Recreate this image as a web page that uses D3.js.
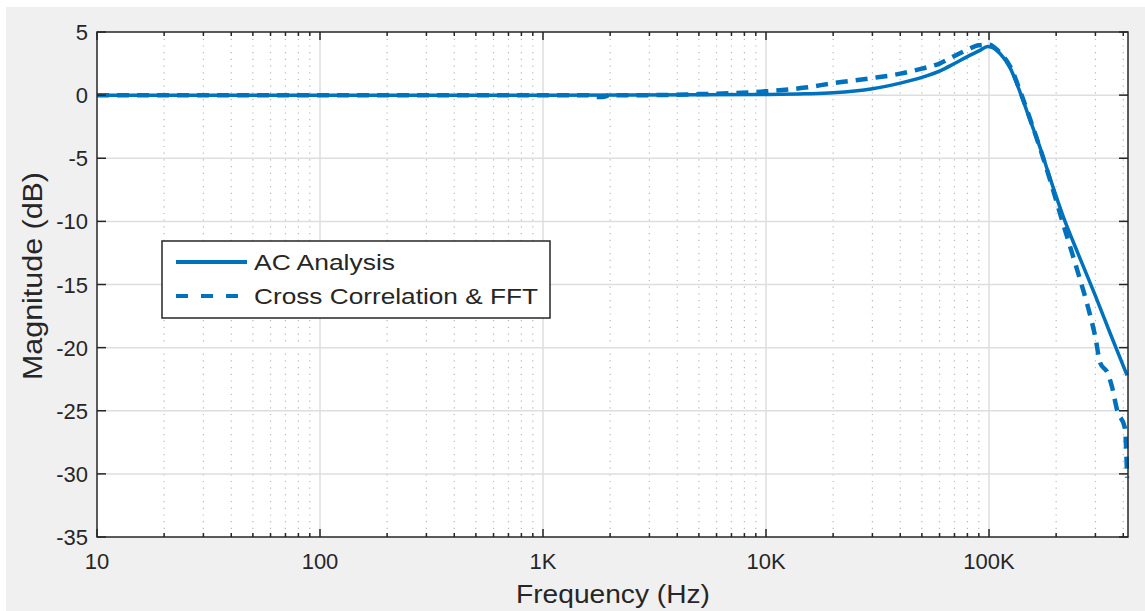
<!DOCTYPE html>
<html>
<head>
<meta charset="utf-8">
<script src="https://cdn.jsdelivr.net/npm/d3@7"></script>
<style>
  body { margin: 0; background: #fff; }
  text { font-family: "Liberation Sans", Arial, Helvetica, sans-serif; fill: #262626; }
</style>
</head>
<body>
<script>
// AC analysis (solid) - frequency in Hz, magnitude in dB
var acFreq = [10, 100, 1000, 5000, 10000, 15000, 20000, 30000, 40000, 50000, 60000, 70000, 80000, 90000, 99000, 112000, 124000, 138000, 153000, 169000, 188000, 215000, 250000, 300000, 350000, 416000];
var acMag  = [0, 0, 0, 0.02, 0.05, 0.1, 0.18, 0.5, 0.95, 1.4, 1.9, 2.5, 3.05, 3.5, 3.85, 3.3, 2.2, 0.2, -2.0, -4.1, -6.6, -9.6, -12.5, -15.9, -18.9, -22.2];

// cross correlation & FFT (dashed)
var ccFreq = [10, 100, 1000, 1600, 1700, 1850, 2000, 3000, 5000, 7000, 10000, 15000, 20000, 30000, 40000, 50000, 60000, 70000, 80000, 90000, 100000, 110000, 125000, 140000, 155000, 170000, 190000, 210000, 231000, 250000, 275000, 300000, 315000, 340000, 356000, 376000, 406000, 414000, 416000];
var ccMag  = [0, 0, 0, 0, -0.15, -0.15, 0, 0, 0.08, 0.15, 0.3, 0.6, 0.95, 1.35, 1.7, 2.1, 2.5, 3.1, 3.6, 3.95, 4.0, 3.5, 2.2, 0.0, -2.2, -4.3, -7.0, -9.6, -12.0, -14.0, -16.5, -19.2, -21.2, -22.0, -23.1, -25.0, -26.3, -29.0, -30.3];

var xMajor = [10, 100, 1000, 10000, 100000];
var xLabels = ['10', '100', '1K', '10K', '100K'];
var yTicks = [5, 0, -5, -10, -15, -20, -25, -30, -35];
var seriesNames = ['AC Analysis', 'Cross Correlation & FFT'];

var W = 1145, H = 611;
var L = 97, T = 32, R = 1128, B = 537;
var blue = '#0072bd';

var svg = d3.select('body').append('svg')
  .attr('width', W)
  .attr('height', H);

svg.append('rect').attr('x', 6).attr('y', 7).attr('width', W - 6).attr('height', H - 7).attr('fill', '#f0f0f0');
svg.append('rect').attr('x', L).attr('y', T).attr('width', R - L).attr('height', B - T).attr('fill', '#fff');

var x = d3.scaleLog().domain([10, 420000]).range([L, R]);
var y = d3.scaleLinear().domain([-35, 5]).range([B, T]);

// minor ticks 2..9 per decade
var xMinor = [];
xMajor.forEach(d => {
  for (let k = 2; k <= 9; k++) {
    if (d * k <= 420000) xMinor.push(d * k);
  }
});

var grid = svg.append('g');
grid.selectAll('line.minor')
  .data(xMinor)
  .enter().append('line')
  .attr('x1', d => x(d)).attr('x2', d => x(d))
  .attr('y1', T).attr('y2', B)
  .attr('stroke', '#b8b8b8')
  .attr('stroke-width', 1.2)
  .attr('stroke-dasharray', '1.2,5.5');
grid.selectAll('line.vmaj')
  .data(xMajor.slice(1))
  .enter().append('line')
  .attr('x1', d => x(d)).attr('x2', d => x(d))
  .attr('y1', T).attr('y2', B)
  .attr('stroke', '#dedede')
  .attr('stroke-width', 1.5);
grid.selectAll('line.hmaj')
  .data(yTicks.slice(1, -1))
  .enter().append('line')
  .attr('x1', L).attr('x2', R)
  .attr('y1', d => y(d)).attr('y2', d => y(d))
  .attr('stroke', '#dedede')
  .attr('stroke-width', 1.5);

// curves
var line = d3.line()
  .x(d => x(d[0]))
  .y(d => y(d[1]))
  .curve(d3.curveMonotoneX);

svg.append('clipPath').attr('id', 'clip')
  .append('rect').attr('x', L).attr('y', T - 5).attr('width', R - L + 2).attr('height', B - T + 10);

svg.append('path')
  .datum(d3.zip(ccFreq, ccMag))
  .attr('clip-path', 'url(#clip)')
  .attr('d', line)
  .attr('fill', 'none')
  .attr('stroke', blue)
  .attr('stroke-width', 4.5)
  .attr('stroke-dasharray', '12,8');

svg.append('path')
  .datum(d3.zip(acFreq, acMag))
  .attr('clip-path', 'url(#clip)')
  .attr('d', line)
  .attr('fill', 'none')
  .attr('stroke', blue)
  .attr('stroke-width', 3.5);

// box + ticks
var axisColor = '#262626';
var ax = svg.append('g');
ax.append('rect')
  .attr('x', L).attr('y', T).attr('width', R - L).attr('height', B - T)
  .attr('fill', 'none').attr('stroke', axisColor).attr('stroke-width', 1.5);

[B, T].forEach(edge => {
  var dir = edge === B ? -1 : 1;
  ax.selectAll(null).data(xMajor).enter().append('line')
    .attr('x1', d => x(d)).attr('x2', d => x(d))
    .attr('y1', edge).attr('y2', edge + dir * 8)
    .attr('stroke', axisColor).attr('stroke-width', 1.5);
  ax.selectAll(null).data(xMinor).enter().append('line')
    .attr('x1', d => x(d)).attr('x2', d => x(d))
    .attr('y1', edge).attr('y2', edge + dir * 4)
    .attr('stroke', axisColor).attr('stroke-width', 1.5);
});
[L, R].forEach(edge => {
  var dir = edge === L ? 1 : -1;
  ax.selectAll(null).data(yTicks).enter().append('line')
    .attr('x1', edge).attr('x2', edge + dir * 9)
    .attr('y1', d => y(d)).attr('y2', d => y(d))
    .attr('stroke', axisColor).attr('stroke-width', 1.5);
});

// tick labels
svg.selectAll('text.xt')
  .data(xMajor)
  .enter().append('text')
  .attr('x', d => x(d))
  .attr('y', 569)
  .attr('text-anchor', 'middle')
  .attr('font-size', '22px')
  .text((d, i) => xLabels[i]);

svg.selectAll('text.yt')
  .data(yTicks)
  .enter().append('text')
  .attr('x', 88)
  .attr('y', d => y(d) + 8)
  .attr('text-anchor', 'end')
  .attr('font-size', '22px')
  .text(d => d);

// axis titles
svg.append('text')
  .attr('x', 613).attr('y', 603)
  .attr('text-anchor', 'middle')
  .attr('font-size', '25px')
  .attr('textLength', 194)
  .attr('lengthAdjust', 'spacingAndGlyphs')
  .text('Frequency (Hz)');

svg.append('text')
  .attr('transform', 'translate(42,276) rotate(-90)')
  .attr('text-anchor', 'middle')
  .attr('font-size', '27px')
  .attr('textLength', 208)
  .attr('lengthAdjust', 'spacingAndGlyphs')
  .text('Magnitude (dB)');

// legend
var lg = svg.append('g');
lg.append('rect')
  .attr('x', 162).attr('y', 241).attr('width', 388).attr('height', 77)
  .attr('fill', '#fff').attr('stroke', axisColor).attr('stroke-width', 1.5);

var lgY = [262, 296];
var lgLen = [141, 284];
lg.selectAll('line.lg')
  .data(seriesNames)
  .enter().append('line')
  .attr('x1', 176).attr('x2', 247)
  .attr('y1', (d, i) => lgY[i]).attr('y2', (d, i) => lgY[i])
  .attr('stroke', blue)
  .attr('stroke-width', 4)
  .attr('stroke-dasharray', (d, i) => i === 1 ? '12,13' : null);
lg.selectAll('text.lg')
  .data(seriesNames)
  .enter().append('text')
  .attr('x', 254)
  .attr('y', (d, i) => lgY[i] + 8)
  .attr('font-size', '22px')
  .attr('textLength', (d, i) => lgLen[i])
  .attr('lengthAdjust', 'spacingAndGlyphs')
  .text(d => d);
</script>
</body>
</html>
